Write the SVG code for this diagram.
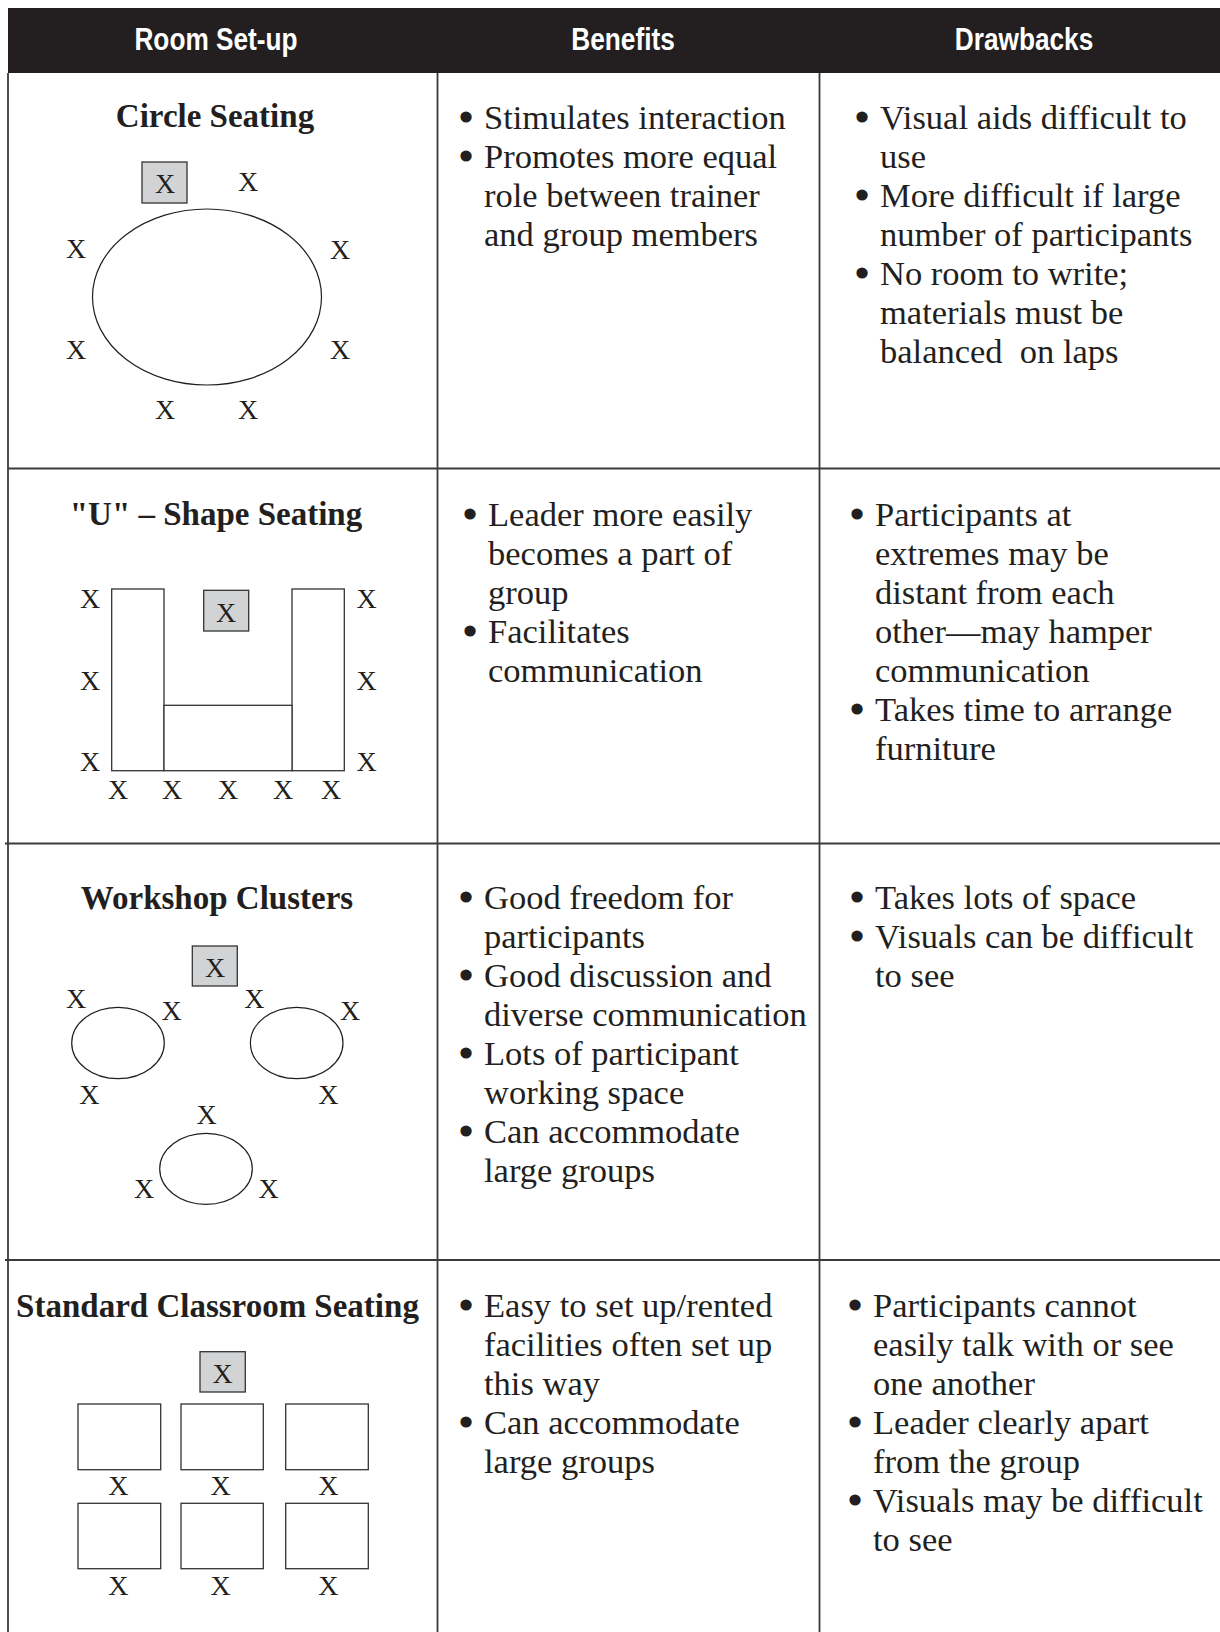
<svg xmlns="http://www.w3.org/2000/svg" width="1220" height="1632" viewBox="0 0 1220 1632">
<style>
.hd{font-family:"Liberation Sans",Arial,sans-serif;font-weight:bold;font-size:32px;fill:#ffffff;text-anchor:middle}
.ti{font-family:"Liberation Serif","Times New Roman",serif;font-weight:bold;font-size:33px;fill:#231f20;text-anchor:middle}
.tx{font-family:"Liberation Serif","Times New Roman",serif;font-size:34.5px;fill:#231f20}
.bl{stroke:#231f20;stroke-width:3;stroke-linejoin:round}
.x{font-family:"Liberation Serif","Times New Roman",serif;font-size:28px;fill:#231f20;text-anchor:middle}
.grid{stroke:#3a3a3a;stroke-width:1.8;fill:none}
.box{fill:#d1d3d4;stroke:#333;stroke-width:1.3}
.tbl{fill:#ffffff;stroke:#333;stroke-width:1.3}
.el{fill:none;stroke:#231f20;stroke-width:1.2}
</style>
<rect width="1220" height="1632" fill="#ffffff"/>
<g id="header">
<rect x="8" y="8" width="1212" height="65" fill="#231f20"/>
<text class="hd" transform="translate(216,50) scale(0.82,1)">Room Set-up</text>
<text class="hd" transform="translate(623,50) scale(0.82,1)">Benefits</text>
<text class="hd" transform="translate(1024,50) scale(0.82,1)">Drawbacks</text>
</g>
<g id="grid" class="grid">
<line x1="8" y1="73" x2="8" y2="1632"/>
<line x1="437.5" y1="73" x2="437.5" y2="1632"/>
<line x1="819.5" y1="73" x2="819.5" y2="1632"/>
<line x1="8" y1="468.5" x2="1220" y2="468.5"/>
<line x1="5" y1="843.5" x2="1220" y2="843.5"/>
<line x1="5" y1="1260" x2="1220" y2="1260"/>
</g>
<g id="circle-setup">
<text class="ti" x="215" y="127">Circle Seating</text>
<rect class="box" x="142" y="162" width="45" height="41"/>
<text class="x" x="165" y="193">X</text>
<text class="x" x="248" y="191">X</text>
<ellipse class="el" cx="207" cy="297" rx="114.5" ry="88"/>
<text class="x" x="76" y="258">X</text>
<text class="x" x="340" y="259">X</text>
<text class="x" x="76" y="359">X</text>
<text class="x" x="340" y="359">X</text>
<text class="x" x="165" y="419">X</text>
<text class="x" x="248" y="419">X</text>
</g>
<g id="circle-benefits" class="tx">
<text class="bl" x="460" y="129">•</text>
<text x="484" y="129">Stimulates interaction</text>
<text class="bl" x="460" y="168">•</text>
<text x="484" y="168">Promotes more equal</text>
<text x="484" y="207">role between trainer</text>
<text x="484" y="246">and group members</text>
</g>
<g id="circle-drawbacks" class="tx">
<text class="bl" x="856" y="129">•</text>
<text x="880" y="129">Visual aids difficult to</text>
<text x="880" y="168">use</text>
<text class="bl" x="856" y="207">•</text>
<text x="880" y="207">More difficult if large</text>
<text x="880" y="246">number of participants</text>
<text class="bl" x="856" y="285">•</text>
<text x="880" y="285">No room to write;</text>
<text x="880" y="324">materials must be</text>
<text x="880" y="363" xml:space="preserve">balanced  on laps</text>
</g>
<g id="u-setup">
<text class="ti" x="216" y="525">"U" – Shape Seating</text>
<rect class="tbl" x="111.7" y="589" width="52.3" height="181.7"/>
<rect class="tbl" x="292" y="589" width="52.3" height="181.7"/>
<rect class="tbl" x="164" y="705.3" width="128" height="65.4"/>
<rect class="box" x="203.7" y="590.3" width="45" height="40.7"/>
<text class="x" x="226" y="621.7">X</text>
<text class="x" x="90" y="608">X</text>
<text class="x" x="90" y="690">X</text>
<text class="x" x="90" y="771">X</text>
<text class="x" x="366.7" y="608">X</text>
<text class="x" x="366.7" y="690">X</text>
<text class="x" x="366.7" y="771">X</text>
<text class="x" x="118" y="799">X</text>
<text class="x" x="172" y="799">X</text>
<text class="x" x="228" y="799">X</text>
<text class="x" x="283" y="799">X</text>
<text class="x" x="331" y="799">X</text>
</g>
<g id="u-benefits" class="tx">
<text class="bl" x="464" y="526">•</text>
<text x="488" y="526">Leader more easily</text>
<text x="488" y="565">becomes a part of</text>
<text x="488" y="604">group</text>
<text class="bl" x="464" y="643">•</text>
<text x="488" y="643">Facilitates</text>
<text x="488" y="682">communication</text>
</g>
<g id="u-drawbacks" class="tx">
<text class="bl" x="851" y="526">•</text>
<text x="875" y="526">Participants at</text>
<text x="875" y="565">extremes may be</text>
<text x="875" y="604">distant from each</text>
<text x="875" y="643">other—may hamper</text>
<text x="875" y="682">communication</text>
<text class="bl" x="851" y="721">•</text>
<text x="875" y="721">Takes time to arrange</text>
<text x="875" y="760">furniture</text>
</g>
<g id="workshop-setup">
<text class="ti" x="217" y="909">Workshop Clusters</text>
<rect class="box" x="192.3" y="946" width="45" height="40"/>
<text class="x" x="215" y="976.7">X</text>
<ellipse class="el" cx="118" cy="1043" rx="46.3" ry="35.7"/>
<ellipse class="el" cx="296.7" cy="1043" rx="46.3" ry="35.7"/>
<ellipse class="el" cx="206" cy="1168.8" rx="46.3" ry="35.5"/>
<text class="x" x="76" y="1007.7">X</text>
<text class="x" x="171.7" y="1020.3">X</text>
<text class="x" x="254.3" y="1007.7">X</text>
<text class="x" x="350" y="1020.3">X</text>
<text class="x" x="89.3" y="1103.7">X</text>
<text class="x" x="328.3" y="1103.7">X</text>
<text class="x" x="206.7" y="1124.3">X</text>
<text class="x" x="144" y="1197.7">X</text>
<text class="x" x="268.7" y="1197.7">X</text>
</g>
<g id="workshop-benefits" class="tx">
<text class="bl" x="460" y="909">•</text>
<text x="484" y="909">Good freedom for</text>
<text x="484" y="948">participants</text>
<text class="bl" x="460" y="987">•</text>
<text x="484" y="987">Good discussion and</text>
<text x="484" y="1026">diverse communication</text>
<text class="bl" x="460" y="1065">•</text>
<text x="484" y="1065">Lots of participant</text>
<text x="484" y="1104">working space</text>
<text class="bl" x="460" y="1143">•</text>
<text x="484" y="1143">Can accommodate</text>
<text x="484" y="1182">large groups</text>
</g>
<g id="workshop-drawbacks" class="tx">
<text class="bl" x="851" y="909">•</text>
<text x="875" y="909">Takes lots of space</text>
<text class="bl" x="851" y="948">•</text>
<text x="875" y="948">Visuals can be difficult</text>
<text x="875" y="987">to see</text>
</g>
<g id="classroom-setup">
<text class="ti" x="217.5" y="1317">Standard Classroom Seating</text>
<rect class="box" x="200" y="1351.7" width="45.3" height="40.3"/>
<text class="x" x="222.7" y="1382.7">X</text>
<rect class="tbl" x="78" y="1404" width="82.7" height="65.7"/>
<rect class="tbl" x="181" y="1404" width="82.3" height="65.7"/>
<rect class="tbl" x="285.7" y="1404" width="82.6" height="65.7"/>
<text class="x" x="118.3" y="1495.3">X</text>
<text class="x" x="220.7" y="1495.3">X</text>
<text class="x" x="328.3" y="1495.3">X</text>
<rect class="tbl" x="78" y="1503.3" width="82.7" height="65.4"/>
<rect class="tbl" x="181" y="1503.3" width="82.3" height="65.4"/>
<rect class="tbl" x="285.7" y="1503.3" width="82.6" height="65.4"/>
<text class="x" x="118.3" y="1595.3">X</text>
<text class="x" x="220.7" y="1595.3">X</text>
<text class="x" x="328.3" y="1595.3">X</text>
</g>
<g id="classroom-benefits" class="tx">
<text class="bl" x="460" y="1317">•</text>
<text x="484" y="1317">Easy to set up/rented</text>
<text x="484" y="1356">facilities often set up</text>
<text x="484" y="1395">this way</text>
<text class="bl" x="460" y="1434">•</text>
<text x="484" y="1434">Can accommodate</text>
<text x="484" y="1473">large groups</text>
</g>
<g id="classroom-drawbacks" class="tx">
<text class="bl" x="849" y="1317">•</text>
<text x="873" y="1317">Participants cannot</text>
<text x="873" y="1356">easily talk with or see</text>
<text x="873" y="1395">one another</text>
<text class="bl" x="849" y="1434">•</text>
<text x="873" y="1434">Leader clearly apart</text>
<text x="873" y="1473">from the group</text>
<text class="bl" x="849" y="1512">•</text>
<text x="873" y="1512">Visuals may be difficult</text>
<text x="873" y="1551">to see</text>
</g>
</svg>
